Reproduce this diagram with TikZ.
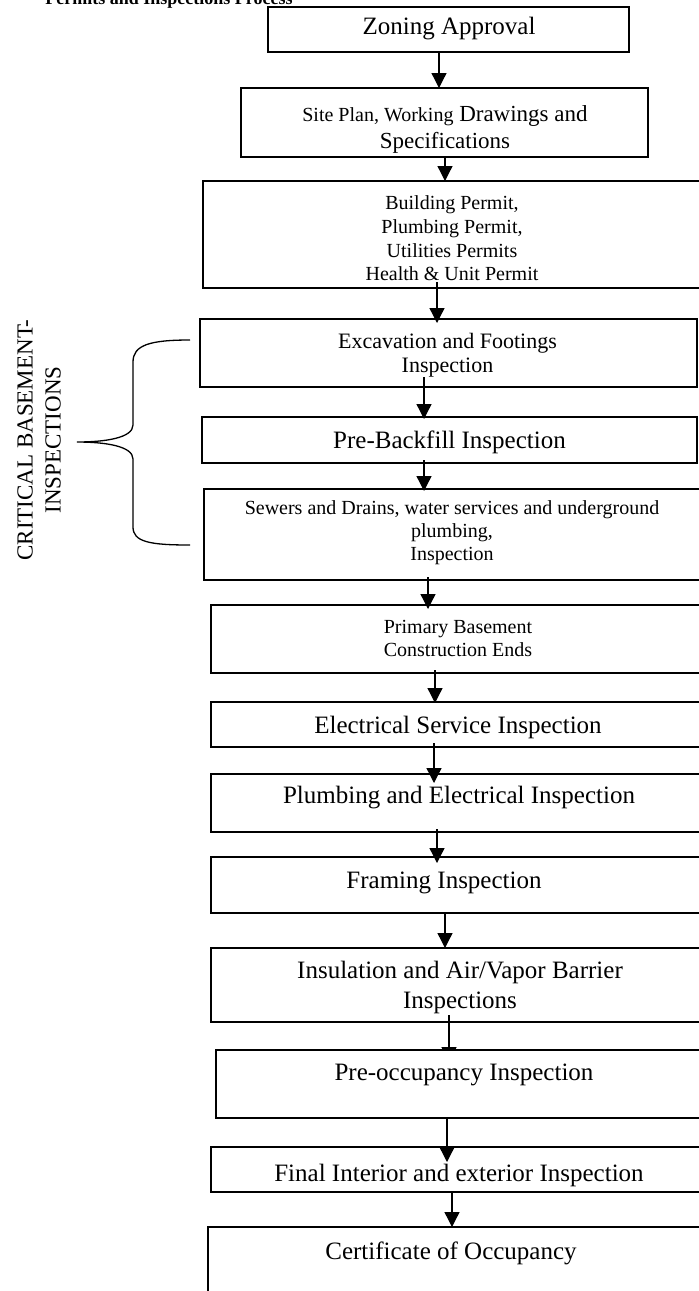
\documentclass[tikz,border=0pt]{standalone}
\usepackage{fontspec}
\setmainfont{Liberation Serif}
\usetikzlibrary{arrows.meta,calc,backgrounds,fit}
\begin{document}
\begin{tikzpicture}[x=0.5pt,y=-0.5pt,
  box/.style={draw, line width=1pt, inner sep=0pt, outer sep=0pt},
  txt/.style={align=center, inner sep=0pt, font=\fontsize{12.5}{15}\selectfont},
  small/.style={align=center, inner sep=0pt, font=\fontsize{10}{11.8}\selectfont},
  arr/.style={line width=0.65pt, -{Triangle[length=7.5pt,width=7.5pt]}},
  brace/.style={line width=0.65pt}
]
\useasboundingbox (0,0) rectangle (699,1291);
\clip (0,0) rectangle (699,1291);

% title (cut off at the top)
\node[anchor=base west, inner sep=0pt, font=\bfseries\fontsize{9}{11}\selectfont] (title) at (45,4.5) {Permits and Inspections Process};

% boxes
\node[box, fit={(268,7)(629,52)}] (b1) {};
\node[txt] (t1) at (449,29) {Zoning Approval};

\node[box, fit={(241,88)(648,157)}] (b2) {};
\node[align=center, inner sep=0pt, font=\fontsize{11.5}{13.5}\selectfont] (t2) at (445,129)
  {{\fontsize{10}{13.5}\selectfont Site Plan, Working} Drawings and\\Specifications};

\node[box, fit={(203,181)(702,288)}] (b3) {};
\node[small] (t3) at (452,238.5) {Building Permit,\\Plumbing Permit,\\Utilities Permits\\Health \& Unit Permit};

\node[box, fit={(200,319)(697,387)}] (b4) {};
\node[align=center, inner sep=0pt, font=\fontsize{11}{12}\selectfont] (t4) at (447.5,355) {Excavation and Footings\\Inspection};

\node[box, fit={(202,417)(697,463)}] (b5) {};
\node[txt] (t5) at (449.5,442) {Pre-Backfill Inspection};

\node[box, fit={(204,489)(702,580)}] (b6) {};
\node[align=center, inner sep=0pt, font=\fontsize{10}{11.5}\selectfont] (t6) at (452,533) {Sewers and Drains, water services and underground\\plumbing,\\Inspection};

\node[box, fit={(211,605)(705,673)}] (b7) {};
\node[align=center, inner sep=0pt, font=\fontsize{10}{11.5}\selectfont] (t7) at (458,638.5) {Primary Basement\\Construction Ends};

\node[box, fit={(211,702)(705,747)}] (b8) {};
\node[txt] (t8) at (458,727) {Electrical Service Inspection};

\node[box, fit={(211,774)(707,832)}] (b9) {};
\node[txt] (t9) at (459,798) {Plumbing and Electrical Inspection};

\node[box, fit={(211,857)(705,913)}] (b10) {};
\node[txt] (t10) at (444,883) {Framing Inspection};

\node[box, fit={(211,948)(708,1022)}] (b11) {};
\node[txt] (t11) at (460,987) {Insulation and Air/Vapor Barrier\\Inspections};

\node[box, fill=white, fit={(216,1050)(712,1118)}] (b12) {};
\node[txt] (t12) at (464,1075) {Pre-occupancy Inspection};

\node[box, fit={(211,1147)(707,1192)}] (b13) {};
\node[txt] (t13) at (459,1175) {Final Interior and exterior Inspection};

\node[box, fit={(208,1227)(700,1330)}] (b14) {};
\node[txt] (t14) at (451,1253) {Certificate of Occupancy};

% connectors
\draw[arr] ($(b1.south)+(-9.5,0)$) -- ($(b2.north)+(-5.5,0)$);
\draw[arr] ($(b2.south)+(0.5,0)$) -- ($(b3.north)+(-7.5,0)$);
\draw[arr] ($(b3.south)+(-15.5,-6)$) -- ($(b4.north)+(-11.5,4)$);
\draw[arr] ($(b4.south)+(-24.5,-10)$) -- ($(b5.north)+(-25.5,2)$);
\draw[arr] ($(b5.south)+(-25.5,-3)$) -- ($(b6.north)+(-29,2)$);
\draw[arr] ($(b6.south)+(-25,-3)$) -- ($(b7.north)+(-30,4)$);
\draw[arr] ($(b7.south)+(-23,-3)$) -- ($(b8.north)+(-23,1)$);
\draw[arr] ($(b8.south)+(-24,-4)$) -- ($(b9.north)+(-25,9)$);
\draw[arr] ($(b9.south)+(-22,-3)$) -- ($(b10.north)+(-21,6)$);
\draw[arr] ($(b10.south)+(-13,0)$) -- ($(b11.north)+(-14.5,0)$);
\begin{pgfonlayer}{background}
\draw[arr] ($(b11.south)+(-10.5,-7)$) -- ($(b12.north)+(-15,12)$);
\end{pgfonlayer}
\draw[arr] ($(b12.south)+(-17,0)$) -- ($(b13.north)+(-12,15)$);
\draw[arr] ($(b13.south)+(-7,0)$) -- ($(b14.north)+(-2,0)$);

% brace and side label
\draw[brace] (190,340) .. controls (150,340) and (133,345) .. (133,362)
  -- (133,425) .. controls (133,438) and (105,442) .. (77,442)
  .. controls (105,442) and (133,446) .. (133,459)
  -- (133,527) .. controls (133,542) and (150,545) .. (190,545);
\node[rotate=90, align=center, inner sep=0pt, font=\fontsize{11.5}{14}\selectfont] (side) at (39,440) {CRITICAL BASEMENT-\\INSPECTIONS};
\end{tikzpicture}
\end{document}
